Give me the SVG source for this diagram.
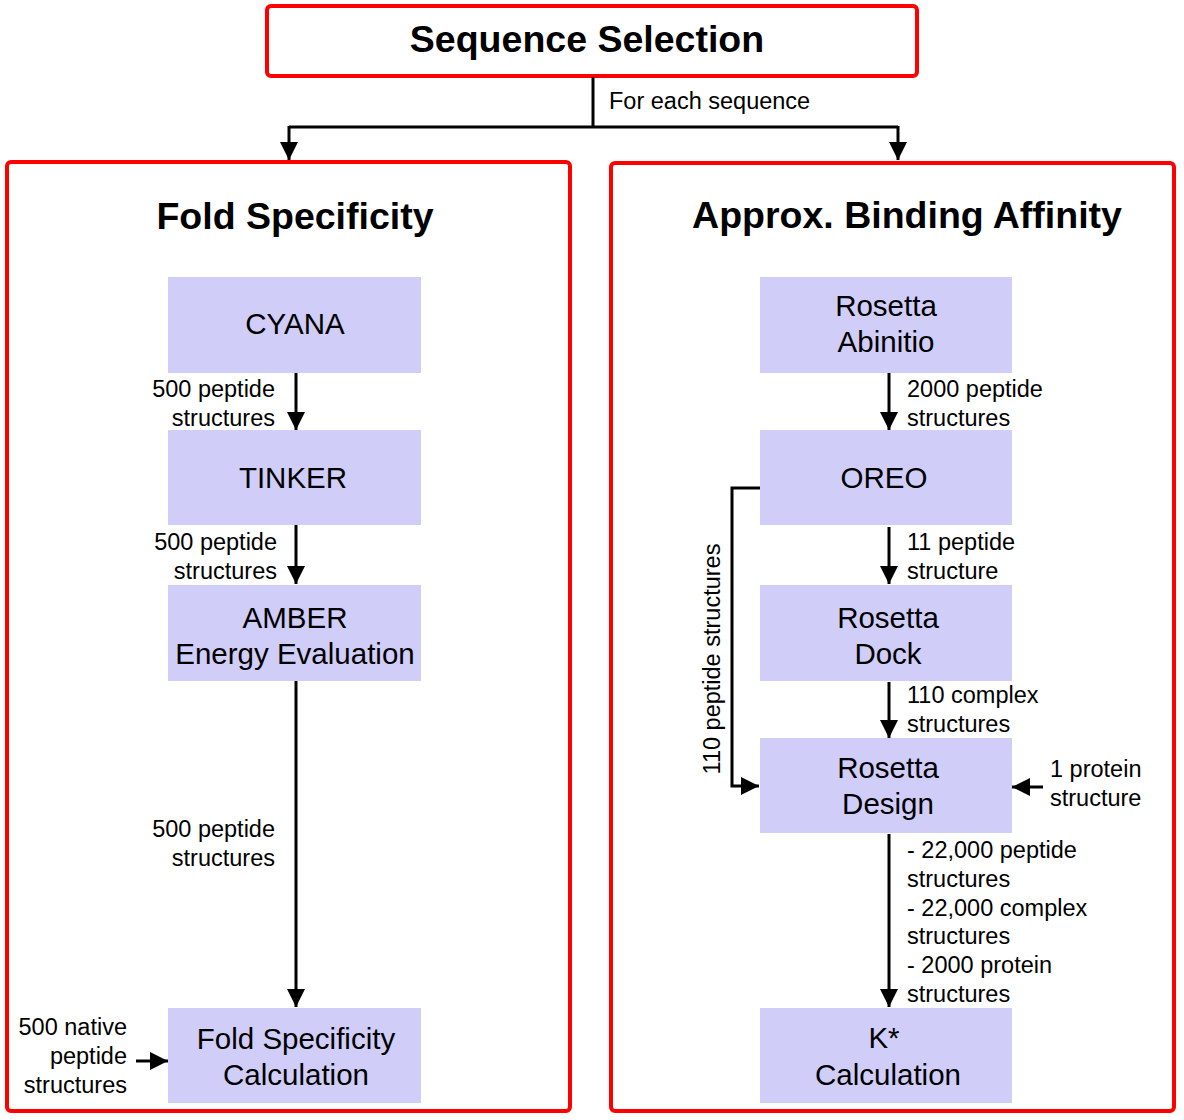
<svg xmlns="http://www.w3.org/2000/svg" width="1184" height="1120" viewBox="0 0 1184 1120">
<defs>
<marker id="ah" markerUnits="userSpaceOnUse" markerWidth="18" markerHeight="18" refX="18" refY="9" orient="auto">
<path d="M0,0 L18,9 L0,18 z" fill="#000"/>
</marker>
<style>
.panel{fill:#fff;stroke:#ff0000;stroke-width:4}
.node{fill:#d1cdf9}
.ttl{font-family:"Liberation Sans",Arial,sans-serif;font-weight:bold;font-size:37.5px;fill:#000;text-anchor:middle}
.nt{font-family:"Liberation Sans",Arial,sans-serif;font-size:29.5px;fill:#000;text-anchor:middle}
.lb{font-family:"Liberation Sans",Arial,sans-serif;font-size:23.5px;fill:#000}
.r{text-anchor:end}
.c{fill:none;stroke:#000;stroke-width:3;marker-end:url(#ah)}
.cl{fill:none;stroke:#000;stroke-width:3}
</style>
</defs>
<rect width="1184" height="1120" fill="#fff"/>

<g id="seqsel">
<rect class="panel" x="267" y="6" width="650" height="70" rx="4"/>
<text class="ttl" x="587" y="52">Sequence Selection</text>
</g>
<g id="foldpanel">
<rect class="panel" x="7" y="162" width="563" height="949" rx="4"/>
<text class="ttl" x="295" y="229">Fold Specificity</text>
</g>
<g id="bindpanel">
<rect class="panel" x="611" y="163" width="563" height="948" rx="4"/>
<text class="ttl" x="907" y="228">Approx. Binding Affinity</text>
</g>

<g id="cyana"><rect class="node" x="168" y="277" width="253" height="96"/><text class="nt" x="295" y="334">CYANA</text></g>
<g id="tinker"><rect class="node" x="168" y="430" width="253" height="95"/><text class="nt" x="293" y="488">TINKER</text></g>
<g id="amber"><rect class="node" x="168" y="585" width="253" height="96"/><text class="nt" x="295" y="628">AMBER</text><text class="nt" x="295" y="664">Energy Evaluation</text></g>
<g id="foldcalc"><rect class="node" x="168" y="1008" width="253" height="95"/><text class="nt" x="296" y="1049">Fold Specificity</text><text class="nt" x="296" y="1085">Calculation</text></g>

<g id="abinitio"><rect class="node" x="760" y="277" width="252" height="96"/><text class="nt" x="886" y="316">Rosetta</text><text class="nt" x="886" y="352">Abinitio</text></g>
<g id="oreo"><rect class="node" x="760" y="430" width="252" height="95"/><text class="nt" x="884" y="488">OREO</text></g>
<g id="dock"><rect class="node" x="760" y="585" width="252" height="96"/><text class="nt" x="888" y="628">Rosetta</text><text class="nt" x="888" y="664">Dock</text></g>
<g id="design"><rect class="node" x="760" y="738" width="252" height="95"/><text class="nt" x="888" y="778">Rosetta</text><text class="nt" x="888" y="814">Design</text></g>
<g id="kstar"><rect class="node" x="760" y="1008" width="252" height="95"/><text class="nt" x="884" y="1048">K*</text><text class="nt" x="888" y="1085">Calculation</text></g>

<g id="connectors">
<polyline class="cl" points="593,77 593,127"/>
<polyline class="cl" points="289,127 898,127"/>
<line class="c" x1="289" y1="126" x2="289" y2="160"/>
<line class="c" x1="898" y1="126" x2="898" y2="160"/>
<line class="c" x1="296" y1="373" x2="296" y2="430"/>
<line class="c" x1="296" y1="525" x2="296" y2="584"/>
<line class="c" x1="296" y1="681" x2="296" y2="1007"/>
<line class="c" x1="136" y1="1061" x2="168" y2="1061"/>
<line class="c" x1="889" y1="373" x2="889" y2="430"/>
<line class="c" x1="889" y1="527" x2="889" y2="584"/>
<line class="c" x1="889" y1="682" x2="889" y2="738"/>
<line class="c" x1="889" y1="834" x2="889" y2="1007"/>
<polyline class="c" points="760,488 732,488 732,786 759,786"/>
<line class="c" x1="1043" y1="787" x2="1012" y2="787"/>
</g>

<g id="labels">
<text class="lb" x="609" y="109">For each sequence</text>
<text class="lb r" x="275" y="397">500 peptide</text>
<text class="lb r" x="275" y="426">structures</text>
<text class="lb r" x="277" y="550">500 peptide</text>
<text class="lb r" x="277" y="579">structures</text>
<text class="lb r" x="275" y="837">500 peptide</text>
<text class="lb r" x="275" y="866">structures</text>
<text class="lb r" x="127" y="1035">500 native</text>
<text class="lb r" x="127" y="1064">peptide</text>
<text class="lb r" x="127" y="1093">structures</text>
<text class="lb" x="907" y="397">2000 peptide</text>
<text class="lb" x="907" y="426">structures</text>
<text class="lb" x="907" y="550">11 peptide</text>
<text class="lb" x="907" y="579">structure</text>
<text class="lb" x="907" y="703">110 complex</text>
<text class="lb" x="907" y="732">structures</text>
<text class="lb" x="1050" y="777">1 protein</text>
<text class="lb" x="1050" y="806">structure</text>
<text class="lb" x="907" y="858">- 22,000 peptide</text>
<text class="lb" x="907" y="887">structures</text>
<text class="lb" x="907" y="916">- 22,000 complex</text>
<text class="lb" x="907" y="944">structures</text>
<text class="lb" x="907" y="973">- 2000 protein</text>
<text class="lb" x="907" y="1002">structures</text>
<text class="lb" x="720" y="659" text-anchor="middle" transform="rotate(-90 720 659)">110 peptide structures</text>
</g>
</svg>
